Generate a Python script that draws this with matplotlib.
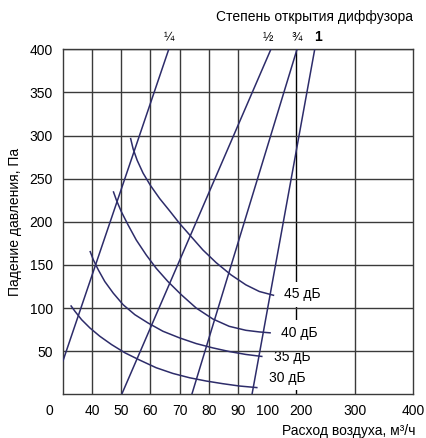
import numpy as np
import matplotlib
matplotlib.use("Agg")
import matplotlib.pyplot as plt
from matplotlib.transforms import ScaledTranslation

plt.rcParams['font.family'] = ['Liberation Sans', 'DejaVu Sans']

# x axis of the original is not linear: every labelled value gets its own cell
flow_knots = [0, 40, 50, 60, 70, 80, 90, 100, 200, 300, 400]
pos_knots = [0, 1, 2, 3, 4, 5, 6, 7, 8, 10, 12]

x_ticks = [0, 40, 50, 60, 70, 80, 90, 100, 200, 300, 400]
x_grid = [40, 50, 60, 70, 80, 90, 200, 300]
y_ticks = [50, 100, 150, 200, 250, 300, 350, 400]

# damper opening lines (flow m3/h, pressure Pa)
open_names = ['¼', '½', '¾', '1']
open_flow = [[0, 66.3], [50.2, 112.6], [74.2, 201], [94.8, 231.3]]
open_dp = [[37.8, 400], [0, 400], [0, 400], [0, 400]]

# noise curves
db_names = ['45 дБ', '40 дБ', '35 дБ', '30 дБ']
db_flow = [
    [53.2, 54.1, 55.5, 57.5, 60.0, 63.2, 66.6, 70.0, 74.0, 78.0, 82.5, 87.6, 92.7, 97.3, 123.9],
    [47.3, 48.4, 50.1, 52.4, 55.2, 58.6, 62.0, 66.0, 70.6, 75.7, 81.4, 87.0, 92.7, 97.3, 112.5],
    [37.3, 40.5, 42.2, 44.4, 47.3, 50.7, 54.7, 59.2, 64.3, 70.0, 75.7, 81.4, 87.0, 92.7, 98.4],
    [10.9, 16.8, 25.9, 37.3, 42.7, 46.7, 51.3, 56.4, 62.0, 67.7, 73.4, 79.1, 84.8, 90.5, 96.7],
]
db_dp = [
    [297.3, 284.6, 271.2, 256.5, 242.3, 226.9, 212.7, 198.1, 182.7, 167.3, 152.7, 138.5, 126.9, 119.2, 114.6],
    [235.4, 225.0, 211.5, 196.2, 178.8, 161.5, 146.1, 130.8, 115.4, 100.0, 87.3, 78.8, 74.2, 72.3, 71.2],
    [166.2, 155.8, 144.2, 130.8, 117.3, 103.8, 92.3, 82.7, 73.1, 65.4, 58.8, 53.8, 49.6, 46.2, 43.8],
    [103.1, 96.2, 86.5, 76.9, 67.3, 57.7, 48.1, 39.6, 30.8, 24.2, 19.2, 15.4, 12.3, 9.6, 7.7],
]


def fwd(x):
    return np.interp(x, flow_knots, pos_knots)


def inv(p):
    return np.interp(p, pos_knots, flow_knots)


line_col = '#2d2c6a'
grid_col = '#3a3a3a'

fig = plt.figure(figsize=(4.26, 4.38), dpi=100)
ax = fig.add_axes([62.7 / 426, 43.7 / 438, 350.6 / 426, 345 / 438])
ax.set_xscale('function', functions=(fwd, inv))
ax.set_xlim(0, 400)
ax.set_ylim(0, 400)

for xv in x_grid:
    ax.axvline(xv, color='black' if xv == 200 else grid_col, lw=1.0, zorder=1)
for yv in y_ticks:
    ax.axhline(yv, color=grid_col, lw=1.0, zorder=3)
for sp in ax.spines.values():
    sp.set_color(grid_col)
    sp.set_linewidth(1.0)
    sp.set_zorder(3)

for fl, dp in zip(open_flow, open_dp):
    ax.plot(fl, dp, color=line_col, lw=1.1, zorder=4, solid_capstyle='butt')
for fl, dp in zip(db_flow, db_dp):
    ax.plot(fl, dp, color=line_col, lw=1.1, zorder=4, solid_capstyle='butt',
            solid_joinstyle='round')

# labels of noise curves, white boxes break the 200 line like in the original
db_offsets = [(7, 1), (7, 0), (8, 0), (8, 7)]
for name, fl, dp, off in zip(db_names, db_flow, db_dp, db_offsets):
    ax.annotate(name, (fl[-1], dp[-1]), xytext=off, textcoords='offset points',
                ha='left', va='center', fontsize=10, zorder=2,
                bbox=dict(boxstyle='square,pad=0.4', fc='white', ec='none'))

# labels of damper openings above the frame
open_offsets = [(0, 0), (-2.5, 0), (0, 0), (2, 0)]
for name, fl, off in zip(open_names, open_flow, open_offsets):
    big = name == '1'
    ax.annotate(name, (fl[-1], 400), xytext=(off[0], 4), textcoords='offset points',
                ha='center', va='bottom', fontsize=10 if big else 9,
                fontweight='bold' if big else 'normal', annotation_clip=False)

ax.set_xticks(x_ticks)
ax.set_xticklabels([str(v) for v in x_ticks])
ax.set_yticks(y_ticks)
ax.set_yticklabels([str(v) for v in y_ticks])
ax.tick_params(length=0, labelsize=10)
ax.tick_params(axis='x', pad=7)
ax.tick_params(axis='y', pad=7)
shifts = {'0': -13, '200': 5}
for lab in ax.get_xticklabels():
    if lab.get_text() in shifts:
        lab.set_transform(lab.get_transform() +
                          ScaledTranslation(shifts[lab.get_text()] / 100, 0, fig.dpi_scale_trans))

fig.text(413 / 426, 1 - 17 / 438, 'Степень открытия диффузора', ha='right', va='center', fontsize=10)
fig.text(416 / 426, 1 - 431.5 / 438, 'Расход воздуха, м³/ч', ha='right', va='center', fontsize=10)
fig.text(15 / 426, 1 - 221.7 / 438, 'Падение давления, Па', ha='center', va='center',
         rotation=90, fontsize=10)

fig.savefig('out.png', dpi=100)
